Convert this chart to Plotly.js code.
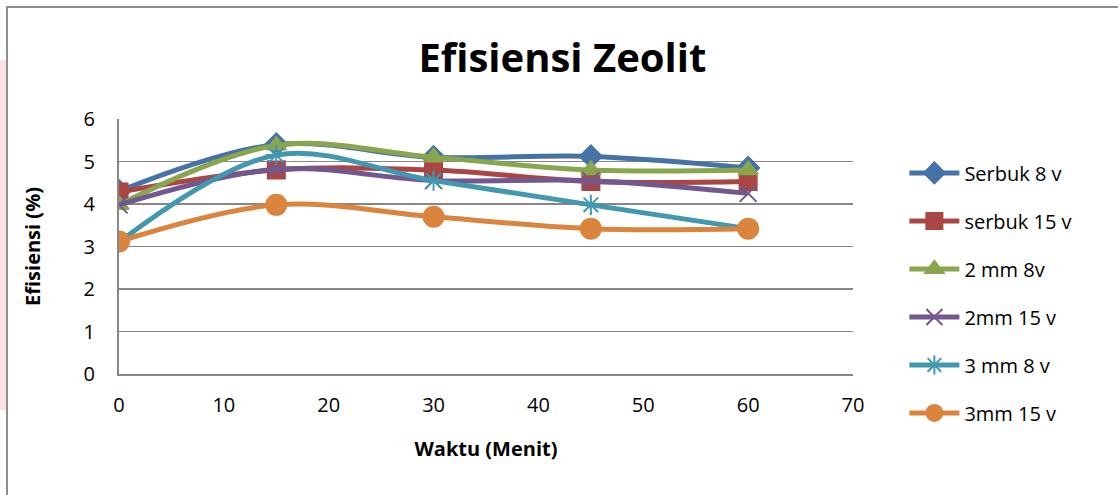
<!DOCTYPE html>
<html>
<head>
<meta charset="utf-8">
<script src="https://cdn.plot.ly/plotly-3.0.1.min.js"></script>
<style>
  html, body { margin: 0; padding: 0; background: #fff; }
  #wrap { position: relative; width: 1118px; height: 495px; overflow: hidden; }
  #chart { position: absolute; left: 0; top: 0; width: 1118px; height: 495px; }
  #pink { position: absolute; left: 0; top: 60px; width: 7px; height: 350px; background: #FDE0E4; pointer-events: none; }
  #frame { position: absolute; left: 6px; top: 6px; width: 1200px; height: 600px;
           border-left: 2px solid #8E8E8E; border-top: 2px solid #8E8E8E; pointer-events: none; }
</style>
</head>
<body>
<div id="wrap">
  <div id="chart"></div>
  <div id="pink"></div>
  <div id="frame"></div>
</div>
<script>
const waktu = [0, 15, 30, 45, 60];
const serbuk8v  = [4.3, 5.4, 5.1, 5.12, 4.85];
const serbuk15v = [4.28, 4.8, 4.8, 4.53, 4.53];
const mm2_8v    = [3.98, 5.38, 5.1, 4.8, 4.8];
const mm2_15v   = [3.98, 4.82, 4.55, 4.55, 4.25];
const mm3_8v    = [3.1, 5.15, 4.55, 3.98, 3.42];
const mm3_15v   = [3.12, 3.98, 3.7, 3.42, 3.42];

const seriesNames = ["Serbuk 8 v", "serbuk 15 v", "2 mm 8v", "2mm 15 v", "3 mm 8 v", "3mm 15 v"];
const seriesData = [serbuk8v, serbuk15v, mm2_8v, mm2_15v, mm3_8v, mm3_15v];
const colors = ["#4572A7", "#AA4643", "#89A54E", "#71588F", "#4198AF", "#DB843D"];
const symbols = ["diamond", "square", "triangle-up", "x-thin-open", "asterisk-open", "circle"];
const sizes = [17, 17, 17, 17, 17, 20];

const font = "'Open Sans', 'Noto Sans', sans-serif";

const traces = seriesData.map((ys, i) => ({
  x: waktu,
  y: ys,
  name: seriesNames[i],
  type: "scatter",
  mode: "lines+markers",
  legendgroup: "g" + i,
  line: { color: colors[i], width: 5, shape: "spline", smoothing: 1 },
  marker: { symbol: symbols[i], size: sizes[i], color: colors[i],
            line: { color: colors[i], width: 2 } }
}));

const layout = {
  width: 1118, height: 495,
  margin: { l: 119, r: 265, t: 119, b: 121, pad: 0 },
  paper_bgcolor: "#ffffff",
  plot_bgcolor: "#ffffff",
  font: { family: font, size: 20, color: "#000" },
  title: { text: "<b>Efisiensi Zeolit</b>", font: { family: font, size: 40, color: "#000" },
           x: 0.503, xanchor: "center", y: 0.882, yanchor: "middle" },
  xaxis: {
    range: [0, 70], dtick: 10, tick0: 0,
    showgrid: false, zeroline: false,
    showline: true, linecolor: "#878787", linewidth: 2,
    ticks: "", ticklen: 0, ticklabelstandoff: 12,
    tickfont: { family: font, size: 20, color: "#000" },
    title: { text: "<b>Waktu (Menit)</b>", font: { family: font, size: 20, color: "#000" }, standoff: 25 }
  },
  yaxis: {
    range: [0, 6], dtick: 1, tick0: 0,
    showgrid: true, gridcolor: "#878787", gridwidth: 1.5,
    zeroline: false,
    showline: true, linecolor: "#878787", linewidth: 2,
    ticks: "", ticklen: 0, ticklabelstandoff: 18,
    tickfont: { family: font, size: 20, color: "#000" },
    title: { text: "<b>Efisiensi (%)</b>", font: { family: font, size: 20, color: "#000" }, standoff: 38 }
  },
  legend: {
    x: 1.07, xanchor: "left", y: 0.865, yanchor: "top",
    font: { family: font, size: 20, color: "#000" },
    tracegroupgap: 19, itemwidth: 50, maxheight: 420,
    bgcolor: "rgba(0,0,0,0)"
  },
  showlegend: true
};

Plotly.newPlot("chart", traces, layout, { staticPlot: true, displayModeBar: false });
</script>
</body>
</html>
